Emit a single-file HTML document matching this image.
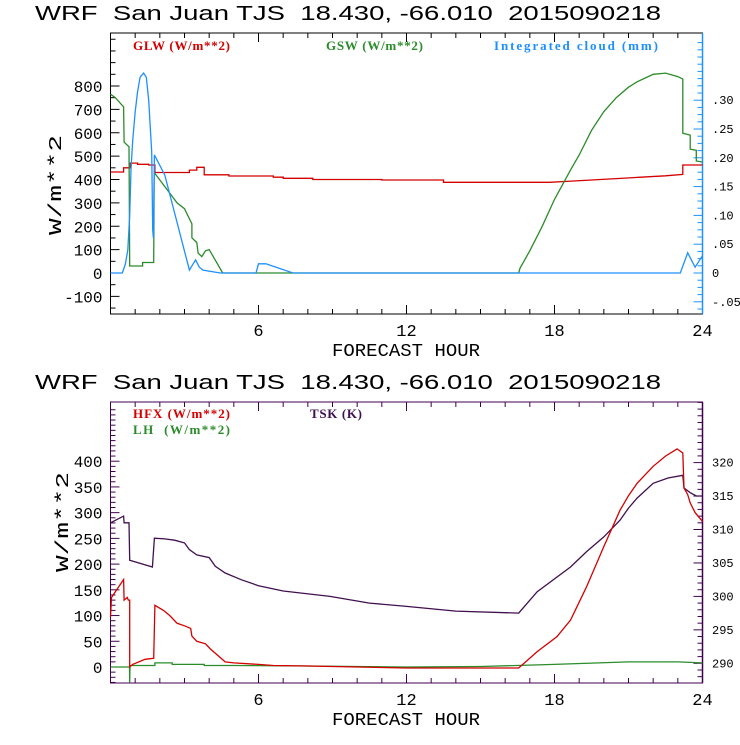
<!DOCTYPE html>
<html><head><meta charset="utf-8"><style>
body{margin:0;background:#fff}
svg text{font-family:"Liberation Mono",monospace}
.lg{font-family:"Liberation Serif",serif;font-weight:bold;font-size:13px}
.ttl{font-family:"Liberation Sans",sans-serif;white-space:pre}
</style></head><body>
<svg id="c" width="740" height="740" xmlns="http://www.w3.org/2000/svg"></svg>
<script>
// ---- data (hour, value) ----
const glwH=[0,0.53,0.53,0.8,0.8,1.1,1.1,1.55,1.55,1.8,1.8,3.2,3.2,3.5,3.5,3.8,3.8,4.8,4.8,6.6,6.6,7,7,8.2,8.2,11,11,13.5,13.5,17.8,18.5,19.5,20.5,21.5,22.5,23.2,23.2,24];
const glwV=[432,432,450,450,470,470,465,465,462,462,430,430,440,440,452,452,420,420,415,415,410,410,405,405,400,400,398,398,388,388,392,398,404,410,416,422,462,462];
const gswH=[0,0.2,0.53,0.55,0.75,0.78,1.3,1.3,1.75,1.77,2.7,3.0,3.3,3.3,3.5,3.55,3.7,3.85,4.0,4.55,16.55,16.6,17,17.5,18,18.65,19,19.5,20,20.5,21,21.35,21.8,22,22.4,22.5,23,23.2,23.2,23.5,23.5,23.75,23.75,24];
const gswV=[765,750,710,560,540,30,30,45,45,430,300,275,210,150,130,85,70,95,100,0,0,20,95,200,315,440,505,610,690,750,795,818,840,850,854,855,840,830,598,590,530,525,479,475];
const cldH=[0,0.48,0.6,0.7,0.78,0.83,0.9,1.0,1.1,1.2,1.34,1.45,1.55,1.67,1.71,1.74,1.78,2.2,3.2,3.45,3.6,3.75,4.45,5.9,6.0,6.3,7.4,23.1,23.4,23.7,24];
const cldV=[0,0,0.015,0.04,0.1,0.18,0.23,0.28,0.315,0.34,0.347,0.34,0.3,0.21,0.075,0.061,0.205,0.17,0.005,0.023,0.01,0.005,0,0,0.016,0.016,0,0,0.035,0.01,0.03];
const hfxH=[0,0.04,0.53,0.55,0.68,0.72,0.78,0.78,0.9,1.4,1.75,1.8,2.15,2.4,2.7,3.0,3.25,3.3,3.5,3.85,4.05,4.65,5,6,6.6,8,12,16.55,17.3,18.1,18.65,19.3,20,20.66,21,21.35,22,22.5,22.97,23.2,23.25,23.4,23.5,23.7,24];
const hfxV=[97,135,170,130,135,130,130,0,5,15,17,120,110,100,85,80,75,60,50,45,35,10,8,5,3,2,-2,-2,30,59,91,156,234,305,333,357,390,410,424,416,348,335,319,300,283];
const lhH=[0,0.77,0.78,0.79,0.8,1.8,1.8,2.5,2.5,3.8,3.8,5,8,12,15,18,21,23,24];
const lhV=[0,0,-30,0,3,3,8,8,5,5,3,3,2,0,1,5,10,10,8];
const tskH=[0,0.53,0.55,0.75,0.78,1.7,1.78,2.2,2.6,3.0,3.2,3.5,4,4.25,4.65,5.3,6,7,8.9,10.5,12,14,16.55,17.3,18.65,19.3,20,20.66,21,21.35,22,22.6,23.2,23.25,23.5,23.75,24];
const tskV=[311,312,311,311,305.4,304.4,308.7,308.6,308.4,308,307,306.2,305.8,304.5,303.5,302.5,301.6,300.8,300,299,298.5,297.8,297.5,300.7,304.4,306.7,308.9,311.4,313.2,314.7,316.9,317.7,318.1,316.2,315.5,315,315];
const xTicks=[6,12,18,24];
const topLeftTicks=[-100,0,100,200,300,400,500,600,700,800];
const topRightTicks=[-0.05,0,0.05,0.10,0.15,0.20,0.25,0.30];
const topRightLabels=["-.05","0",".05",".10",".15",".20",".25",".30"];
const botLeftTicks=[0,50,100,150,200,250,300,350,400];
const botRightTicks=[290,295,300,305,310,315,320];

const NS="http://www.w3.org/2000/svg";
const svg=document.getElementById('c');
function el(t,a,p){const e=document.createElementNS(NS,t);for(const k in a)e.setAttribute(k,a[k]);(p||svg).appendChild(e);return e;}
const X0=110.5,X1=702.5;
const xs=h=>X0+(X1-X0)*h/24;
const T0=33,T1=314;
const yTL=v=>273-v*0.23375;
const yTR=v=>273-v*576;
const B0=402,B1=683;
const yBL=v=>667-v*0.5145;
const yBR=v=>663.3-(v-290)*6.69;

function line(H,V,fy,col,name){
  let d='';H.forEach((h,i)=>{d+=(i?'L':'M')+xs(h).toFixed(1)+' '+fy(V[i]).toFixed(1);});
  const p=el('path',{d:d,fill:'none',stroke:col,'stroke-width':1.3});
  
  
}
function txt(x,y,s,attrs,name){const t=el('text',Object.assign({x:x,y:y},attrs));t.textContent=s;
  return t;}

function panel(top,bot,fcol,rcol,leftTicks,fyL,minStepL,rTicks,rLabels,fyR,minStepR,rMin,rMax,lMin,lMax,pfx,ylabY){
  const f=el('rect',{x:X0,y:top,width:X1-X0,height:bot-top,fill:'none',stroke:fcol,'stroke-width':1});
  
  el('line',{x1:X1,y1:top,x2:X1,y2:bot,stroke:rcol,'stroke-width':1.5});
  for(let h=1;h<24;h++){const L=(h%6==0)?9:5;
    el('line',{x1:xs(h),y1:bot,x2:xs(h),y2:bot-L,stroke:fcol});
    el('line',{x1:xs(h),y1:top,x2:xs(h),y2:top+L,stroke:fcol});}
  xTicks.forEach(h=>txt(xs(h),bot+22,String(h),{'text-anchor':'middle','font-size':17,fill:'#000'},pfx+'-x-tick-'+h));
  for(let v=lMin;v<=lMax+1e-6;v+=minStepL){const y=fyL(v);if(y<top||y>bot)continue;
    const maj=leftTicks.some(t=>Math.abs(t-v)<1e-6);
    el('line',{x1:X0,y1:y,x2:X0+(maj?9:5),y2:y,stroke:fcol});}
  leftTicks.forEach(v=>txt(X0-8,fyL(v)+6,String(v),{'text-anchor':'end','font-size':16,fill:'#000'},pfx+'-y-tick-'+v));
  for(let v=rMin;v<=rMax+1e-6;v+=minStepR){const y=fyR(v);if(y<top||y>bot)continue;
    const maj=rTicks.some(t=>Math.abs(t-v)<1e-6);
    el('line',{x1:X1,y1:y,x2:X1-(maj?9:5),y2:y,stroke:rcol});}
  rTicks.forEach((v,i)=>txt(712,fyR(v)+4,rLabels[i],{'font-size':12,fill:'#000'},pfx+'-y2-tick-'+i));
  txt(0,0,'W/m**2',{'font-size':18,'text-anchor':'middle',fill:'#000',textLength:100,lengthAdjust:'spacingAndGlyphs',transform:`translate(${pfx=='top'?61:68},${ylabY}) rotate(-90)`},pfx+'-y-axis-title');
  txt(406,bot+42,'FORECAST HOUR',{'text-anchor':'middle','font-size':18,fill:'#000',textLength:148,lengthAdjust:'spacingAndGlyphs'},pfx+'-x-axis-title');
  txt(35,top-13,'WRF  San Juan TJS  18.430, -66.010  2015090218',{class:'ttl','font-size':20,fill:'#000',textLength:626,lengthAdjust:'spacingAndGlyphs'},pfx+'-title');
}
panel(T0,T1,'#000','#1e90ff',topLeftTicks,yTL,50,topRightTicks,topRightLabels,yTR,0.0125,-0.075,0.4,-150,1050,'top',185);
panel(B0,B1,'#400050','#400050',botLeftTicks,yBL,10,botRightTicks,botRightTicks.map(String),yBR,1,287,330,-30,500,'bot',522);

line(glwH,glwV,yTL,'#d40000','glw-line');
line(gswH,gswV,yTL,'#2a8c2a','gsw-line');
line(cldH,cldV,yTR,'#1e8fff','cloud-line');
line(tskH,tskV,yBR,'#40104f','tsk-line');
line(lhH,lhV,yBL,'#2a8c2a','lh-line');
line(hfxH,hfxV,yBL,'#d40000','hfx-line');

txt(133,50,'GLW (W/m**2)',{class:'lg',fill:'#d40000',textLength:97},'legend-glw');
txt(326,50,'GSW (W/m**2)',{class:'lg',fill:'#2a8c2a',textLength:97},'legend-gsw');
txt(494,50,'Integrated cloud (mm)',{class:'lg',fill:'#1e8fff',textLength:164},'legend-cloud');
txt(133,418,'HFX (W/m**2)',{class:'lg',fill:'#d40000',textLength:97},'legend-hfx');
txt(133,434,'LH  (W/m**2)',{class:'lg',fill:'#2a8c2a',textLength:97,style:'white-space:pre'},'legend-lh');
txt(310,418,'TSK (K)',{class:'lg',fill:'#40104f',textLength:52},'legend-tsk');
</script>
</body></html>
